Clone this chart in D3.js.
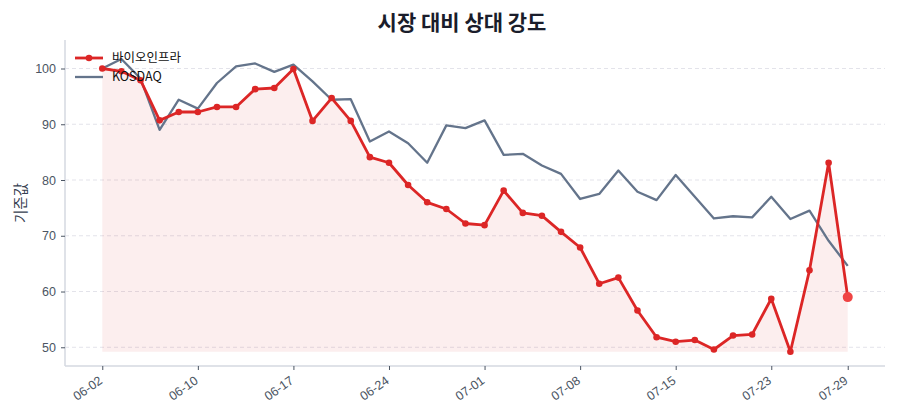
<!DOCTYPE html>
<html>
<head>
<meta charset="utf-8">
<script src="https://cdn.jsdelivr.net/npm/d3@7"></script>
<style>
  body { margin: 0; background: #fff; }
  svg { font-family: "Noto Sans CJK KR", "Noto Sans", sans-serif; }
</style>
</head>
<body>
<div id="chart"></div>
<script>
const dates = [
  "06-02", "06-03", "06-04", "06-05", "06-09", "06-10", "06-11", "06-12",
  "06-13", "06-16", "06-17", "06-18", "06-19", "06-20", "06-23", "06-24",
  "06-25", "06-26", "06-27", "06-30", "07-01", "07-02", "07-03", "07-04",
  "07-07", "07-08", "07-09", "07-10", "07-11", "07-14", "07-15", "07-16",
  "07-17", "07-18", "07-21", "07-23", "07-24", "07-25", "07-28", "07-29",
];
const tickDates = ["06-02", "06-10", "06-17", "06-24", "07-01", "07-08", "07-15", "07-23", "07-29"];
const stockValues = [
  100.0, 99.5, 97.9, 90.7, 92.2, 92.2, 93.1, 93.1, 96.3, 96.5,
  99.9, 90.6, 94.7, 90.6, 84.1, 83.1, 79.1, 76.0, 74.8, 72.2,
  71.9, 78.1, 74.1, 73.6, 70.7, 67.9, 61.4, 62.5, 56.6, 51.8,
  51.0, 51.3, 49.6, 52.1, 52.3, 58.7, 49.2, 63.8, 83.1, 59.0,
];
const marketValues = [
  100.0, 101.7, 98.2, 89.0, 94.4, 92.8, 97.4, 100.4, 100.9, 99.4,
  100.7, 97.7, 94.4, 94.5, 86.9, 88.7, 86.6, 83.1, 89.8, 89.3,
  90.7, 84.5, 84.7, 82.6, 81.1, 76.6, 77.5, 81.7, 77.9, 76.4,
  80.9, 77.0, 73.1, 73.5, 73.3, 77.0, 73.0, 74.5, 69.1, 64.6,
];
const yTicks = [50, 60, 70, 80, 90, 100];
const stockName = "바이오인프라";
const marketName = "KOSDAQ";

const width = 900, height = 420;
const margin = { top: 40, right: 15, bottom: 54, left: 65 };
const innerW = width - margin.left - margin.right;
const innerH = height - margin.top - margin.bottom;

const red = "#dc2626";
const slate = "#64748b";

const svg = d3.select("#chart").append("svg")
  .attr("width", width)
  .attr("height", height);

const n = dates.length;
const pad = (n - 1) * 0.05;
const x = d3.scaleLinear().domain([-pad, n - 1 + pad]).range([0, innerW]);

const allVals = stockValues.concat(marketValues);
const yMin = d3.min(allVals), yMax = d3.max(allVals);
const yPad = (yMax - yMin) * 0.065;
const y = d3.scaleLinear().domain([yMin - yPad * 0.75, yMax + yPad]).range([innerH, 0]);

const g = svg.append("g").attr("transform", `translate(${margin.left},${margin.top})`);

// grid
g.append("g")
  .selectAll("line")
  .data(yTicks)
  .join("line")
  .attr("x1", 0)
  .attr("x2", innerW)
  .attr("y1", (d) => y(d))
  .attr("y2", (d) => y(d))
  .attr("stroke", "#e3e3ea")
  .attr("stroke-width", 1)
  .attr("stroke-dasharray", "4,3");

// fill under stock line
const fillBase = d3.min(stockValues);
const area = d3.area()
  .x((d, i) => x(i))
  .y0(y(fillBase))
  .y1((d) => y(d));
g.append("path")
  .datum(stockValues)
  .attr("d", area)
  .attr("fill", red)
  .attr("fill-opacity", 0.08);

// axes
const xAxis = d3.axisBottom(x)
  .tickValues(tickDates.map((t) => dates.indexOf(t)))
  .tickFormat((i) => dates[i])
  .tickSize(4)
  .tickPadding(4);
const xg = g.append("g").attr("transform", `translate(0,${innerH})`).call(xAxis);
xg.select(".domain").attr("stroke", "#d5d8e0").attr("stroke-width", 1.5);
xg.selectAll(".tick line").attr("stroke", "#4b5563");
xg.selectAll(".tick text")
  .attr("fill", "#4b5563")
  .attr("font-size", 12.5)
  .attr("text-anchor", "end")
  .attr("x", 0)
  .attr("y", 0)
  .attr("dy", "0.35em")
  .attr("transform", "translate(-2,13) rotate(-35)");

const yAxis = d3.axisLeft(y).tickValues(yTicks).tickSize(4).tickPadding(5);
const yg = g.append("g").call(yAxis);
yg.select(".domain").attr("stroke", "#d5d8e0").attr("stroke-width", 1.5);
yg.selectAll(".tick line").attr("stroke", "#4b5563");
yg.selectAll(".tick text").attr("fill", "#4b5563").attr("font-size", 12.5);

// remove outer tick stubs of domain path
xg.select(".domain").attr("d", `M0,0H${innerW}`);
yg.select(".domain").attr("d", `M0,0V${innerH}`);

// lines
const line = d3.line().x((d, i) => x(i)).y((d) => y(d));

g.append("path")
  .datum(marketValues)
  .attr("d", line)
  .attr("fill", "none")
  .attr("stroke", slate)
  .attr("stroke-width", 2.3)
  .attr("stroke-linejoin", "round");

g.append("path")
  .datum(stockValues)
  .attr("d", line)
  .attr("fill", "none")
  .attr("stroke", red)
  .attr("stroke-width", 2.8)
  .attr("stroke-linejoin", "round");

g.append("g")
  .selectAll("circle")
  .data(stockValues.slice(0, -1))
  .join("circle")
  .attr("cx", (d, i) => x(i))
  .attr("cy", (d) => y(d))
  .attr("r", 3.3)
  .attr("fill", red);

g.append("circle")
  .attr("cx", x(n - 1))
  .attr("cy", y(stockValues[n - 1]))
  .attr("r", 5)
  .attr("fill", "#ef4444");

// title
svg.append("text")
  .attr("x", 462)
  .attr("y", 30)
  .attr("text-anchor", "middle")
  .attr("font-size", 21)
  .attr("font-weight", "bold")
  .attr("fill", "#1a1d2b")
  .text("시장 대비 상대 강도");

// y label
svg.append("text")
  .attr("transform", `translate(26,${margin.top + innerH / 2}) rotate(-90)`)
  .attr("text-anchor", "middle")
  .attr("font-size", 14.5)
  .attr("fill", "#374151")
  .text("기준값");

// legend
const legend = svg.append("g").attr("transform", "translate(75,58)");
const items = [
  { name: stockName, color: red, w: 2.8, marker: true },
  { name: marketName, color: slate, w: 2.3, marker: false },
];
items.forEach((it, i) => {
  const row = legend.append("g").attr("transform", `translate(0,${i * 19})`);
  row.append("line")
    .attr("x1", 0).attr("x2", 28)
    .attr("stroke", it.color)
    .attr("stroke-width", it.w);
  if (it.marker) {
    row.append("circle").attr("cx", 14).attr("r", 3.3).attr("fill", it.color);
  }
  row.append("text")
    .attr("x", 37)
    .attr("dy", "0.35em")
    .attr("font-size", 12.5)
    .attr("fill", "#111")
    .text(it.name);
});
</script>
</body>
</html>
